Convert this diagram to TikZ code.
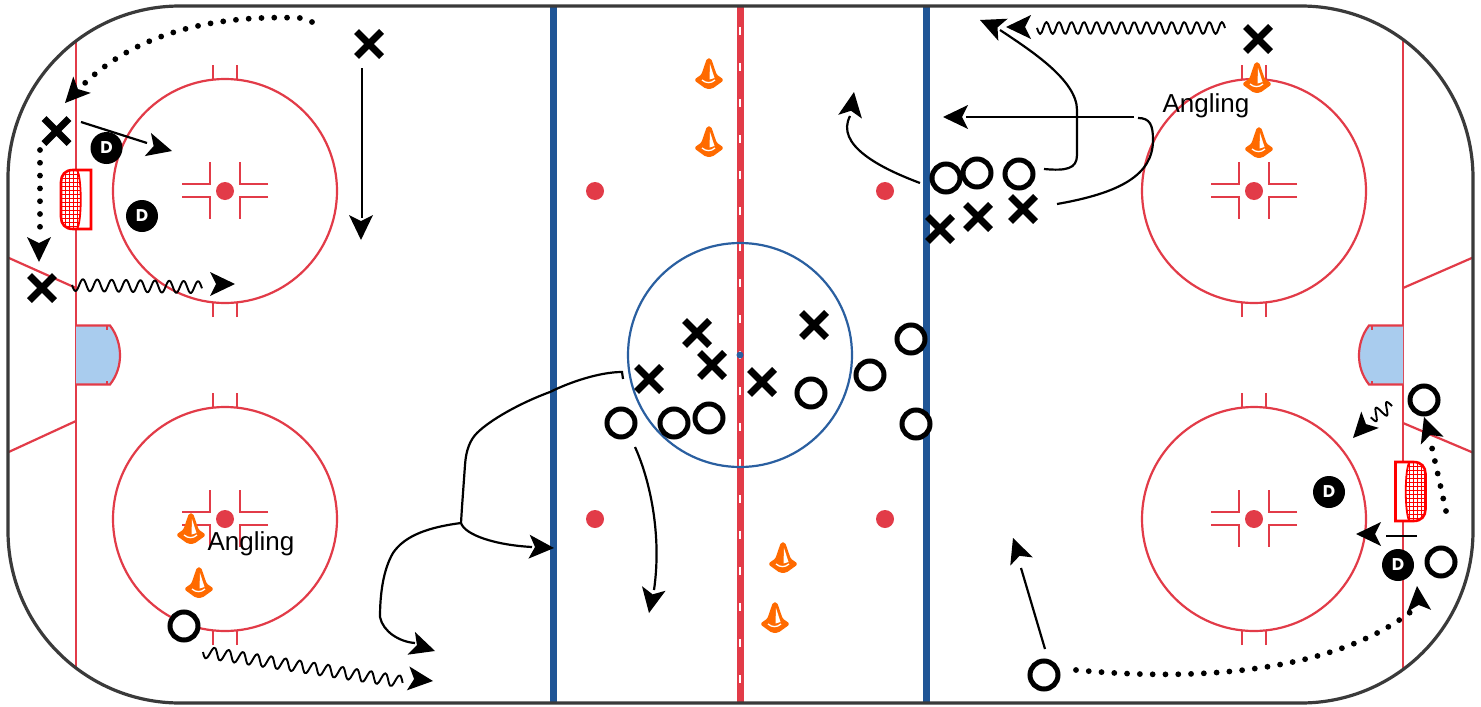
\documentclass[tikz,border=0pt]{standalone}
\usepackage{fontspec}
\setmainfont{Liberation Sans}
\newfontfamily\dfont{Poppins}
\usetikzlibrary{shapes.misc}
\definecolor{rinkred}{HTML}{E23B48}
\definecolor{rinkblue}{HTML}{1F5596}
\definecolor{circblue}{HTML}{2A5FA0}
\definecolor{rinkdark}{HTML}{3A3A3A}
\definecolor{creaseblue}{HTML}{A9CCEE}
\definecolor{coneorange}{HTML}{FF6A00}
\newcommand{\wavyline}[4]{% start, angle, length, period
  \draw[black,line width=1.9pt,line join=round,shift={(#1)},rotate=#2]
    plot[domain=0:#3,samples=120,smooth] (\x,{6*sin(\x/#4*360)});}
\tikzset{
  fl/.style={yscale=-1},
  xplayer/.style={draw=black,cross out,line width=7pt,minimum size=25pt,inner sep=0pt,outer sep=0pt},
  oplayer/.style={draw=black,fill=white,circle,line width=5pt,minimum size=28pt,inner sep=0pt,outer sep=0pt},
  dplayer/.style={fill=black,circle,minimum size=32pt,inner sep=0pt,text=white,font=\dfont\bfseries\fontsize{17}{17}\selectfont},
  label text/.style={font=\fontsize{26}{26}\selectfont,text=black,inner sep=0pt},
  conn/.style={draw=black,line width=2.2pt},
  dots/.style={draw=black,line width=5.8pt,line cap=round,dash pattern=on 0pt off 12.8pt},
  rl/.style={draw=rinkred,line width=2.2pt},
  rldot/.style={fill=rinkred,circle,minimum size=18pt,inner sep=0pt},
  arrowhd/.pic={\fill[black] (0,0) -- (-25,12) -- (-19,0) -- (-25,-12) -- cycle;},
  cone/.pic={
    \fill[coneorange,draw=coneorange,line width=1.5pt,line join=round,rounded corners=1.5pt]
      (-1.5,-15) -- (1.5,-15) -- (7,1) -- (14,6) -- (3,14) -- (-3,14) -- (-14,6) -- (-7,1) -- cycle;
    \fill[white] (1,-10) -- (5.5,4) -- (0.5,5.5) -- cycle;
    \draw[white,line width=1.3pt] (-7,6) .. controls (-3,9.5) and (2,9.5) .. (6,6);
  },
  goalnet/.pic={
    \fill[white] (30,0) -- (12,0) .. controls (4,0) and (0,5) .. (0,12) -- (0,47) .. controls (0,54) and (4,59) .. (12,59) -- (30,59) -- cycle;
    \begin{scope}
      \clip (17,0) -- (12,0) .. controls (4,0) and (0,5) .. (0,12) -- (0,47) .. controls (0,54) and (4,59) .. (12,59) -- (17,59) .. controls (21,52) and (21,7) .. (17,0) -- cycle;
      \draw[red,line width=0.8pt,step=4pt] (-1,-1) grid (22,60);
    \end{scope}
    \draw[red,line width=2.6pt,line join=miter] (30,0) -- (12,0) .. controls (4,0) and (0,5) .. (0,12) -- (0,47) .. controls (0,54) and (4,59) .. (12,59) -- (30,59) -- cycle;
    \draw[red,line width=1.8pt] (16,0) .. controls (21,7) and (21,52) .. (16,59);
  },
  crease/.pic={
    \fill[creaseblue] (0,0) -- (34,0) .. controls (41,9) and (44,20) .. (44,30) .. controls (44,40) and (41,50) .. (34,59) -- (0,59) -- cycle;
    \draw[rl] (0,0) -- (34,0) .. controls (41,9) and (44,20) .. (44,30) .. controls (44,40) and (41,50) .. (34,59) -- (0,59);
    \draw[rl,line width=1.6pt] (31,0) -- (31,4) (31,59) -- (31,55);
  },
  faceoff/.pic={
    \draw[rl] (0,0) circle (112);
    \draw[rl] (-12,-126) -- (-12,-111) (12,-126) -- (12,-111) (-12,126) -- (-12,111) (12,126) -- (12,111);
    \draw[rl] (-43,-7) -- (-15,-7) -- (-15,-29) (43,-7) -- (15,-7) -- (15,-29)
              (-43,6) -- (-15,6) -- (-15,28) (43,6) -- (15,6) -- (15,28);
  },
}
\begin{document}
\begin{tikzpicture}[x=1pt,y=1pt,yscale=-1]
\useasboundingbox (0,0) rectangle (1481,707);
\fill[white] (0,0) rectangle (1481,707);
% rink markings
\begin{scope}
  \clip[rounded corners=172pt] (8,6) rectangle (1473,703);
  \draw[rl] (76,0) -- (76,707) (1403,0) -- (1403,707);
  \draw[rl] (0,254) -- (76,288) (0,456) -- (76,421) (1403,288) -- (1481,254) (1403,423) -- (1481,456);
  \draw[rinkblue,line width=7pt] (553.5,0) -- (553.5,707) (926,0) -- (926,707);
  \draw[rinkred,line width=7pt] (740,0) -- (740,707);
  \draw[white,line width=2pt,dash pattern=on 8pt off 28pt] (740,27) -- (740,707);
\end{scope}
\pic[fl] at (76,325.5) {crease};
\pic[fl,xscale=-1] at (1403,325.5) {crease};
\pic[fl] at (225,191) {faceoff};
\pic[fl] at (225,519) {faceoff};
\pic[fl] at (1254,191) {faceoff};
\pic[fl] at (1254,519) {faceoff};
\node[rldot] (fd1) at (225,191) {};
\node[rldot] (fd2) at (225,519) {};
\node[rldot] (fd3) at (1254,191) {};
\node[rldot] (fd4) at (1254,519) {};
\node[rldot] (nd1) at (595,191) {};
\node[rldot] (nd2) at (885,191) {};
\node[rldot] (nd3) at (595,519) {};
\node[rldot] (nd4) at (885,519) {};
\draw[circblue,line width=2.2pt] (740,355) circle (112);
\node[fill=circblue,circle,minimum size=7pt,inner sep=0pt] (center) at (740,355) {};
\draw[rinkdark,line width=3.2pt,rounded corners=172pt] (8,6) rectangle (1473,703);
% goals
\pic[fl] at (61,170) {goalnet};
\pic[fl,xscale=-1] at (1425.5,462) {goalnet};
% cones
\foreach \cx/\cy in {709/74,709/142,783/558,775/618,1257/78,1259/143,191/529,199/583}
  \pic[fl] at (\cx,\cy) {cone};
% labels
\node[label text] (ang1) at (251,544) {Angling};
\node[label text] (ang2) at (1206,106) {Angling};
% players
\node[xplayer] (x1) at (56.5,131) {};
\node[xplayer] (x2) at (42,288) {};
\node[xplayer] (x3) at (369,44) {};
\node[xplayer] (x4) at (1258,39) {};
\node[xplayer] (x5) at (697,333) {};
\node[xplayer] (x6) at (712,365) {};
\node[xplayer] (x7) at (649,379) {};
\node[xplayer] (x8) at (814,325) {};
\node[xplayer] (x9) at (762,382) {};
\node[xplayer] (x10) at (940,229) {};
\node[xplayer] (x11) at (978,217) {};
\node[xplayer] (x12) at (1023,209) {};
\node[oplayer] (o1) at (946,178) {};
\node[oplayer] (o2) at (977,173) {};
\node[oplayer] (o3) at (1019,174) {};
\node[oplayer] (o4) at (911,339) {};
\node[oplayer] (o5) at (870,375) {};
\node[oplayer] (o6) at (916,424) {};
\node[oplayer] (o7) at (811,393) {};
\node[oplayer] (o8) at (709,418) {};
\node[oplayer] (o9) at (674,423) {};
\node[oplayer] (o10) at (621,423) {};
\node[oplayer] (o11) at (184,626) {};
\node[oplayer] (o12) at (1044,675) {};
\node[oplayer] (o13) at (1424,400) {};
\node[oplayer] (o14) at (1441,562) {};
\node[dplayer] (d1) at (106.5,148) {D};
\node[dplayer] (d2) at (142,216) {D};
\node[dplayer] (d3) at (1329,492) {D};
\node[dplayer] (d4) at (1398,565) {D};
% connector ends
\coordinate (a1s) at (312,22);
\coordinate (a1h) at (300,18);
\coordinate (a1e) at (85,83);
\coordinate (a1t) at (65,103);
\coordinate (a2s) at (81,122);
\coordinate (a2e) at (147,143);
\coordinate (a2t) at (172,151);
\coordinate (a3s) at (40,150);
\coordinate (a3e) at (40,228);
\coordinate (a3t) at (39,262);
\coordinate (a4s) at (72,285);
\coordinate (a4t) at (235,284);
\coordinate (a5s) at (362,68);
\coordinate (a5e) at (362,218);
\coordinate (a5t) at (361,240);
\coordinate (a6s) at (1225,28);
\coordinate (a6t) at (1006,27);
\coordinate (a7s) at (1044,169);
\coordinate (a7m) at (1077,110);
\coordinate (a7e) at (1000,30);
\coordinate (a7t) at (980,20);
\coordinate (a8s) at (1057,204);
\coordinate (a8e) at (1138,118);
\coordinate (a8f) at (1134,117);
\coordinate (a8g) at (966,117);
\coordinate (a8t) at (943,117);
\coordinate (a9s) at (920,183);
\coordinate (a9e) at (850,116);
\coordinate (a9t) at (854,92);
\coordinate (b0) at (623,379);
\coordinate (b1) at (461,523);
\coordinate (b2) at (532,547);
\coordinate (b2t) at (554,548);
\coordinate (b3) at (415,643);
\coordinate (b3t) at (435,651);
\coordinate (c1s) at (203,652);
\coordinate (c1t) at (433,681);
\coordinate (c2s) at (635,447);
\coordinate (c2e) at (654,590);
\coordinate (c2t) at (649,613);
\coordinate (c3s) at (1045,649);
\coordinate (c3e) at (1021,568);
\coordinate (c3t) at (1013,538);
\coordinate (c4s) at (1076,670);
\coordinate (c4e) at (1418,606);
\coordinate (c4t) at (1417,586);
\coordinate (c5s) at (1392,406);
\coordinate (c5t) at (1353,438);
\coordinate (c6s) at (1446,511);
\coordinate (c6e) at (1432,448);
\coordinate (c6t) at (1424,417);
\coordinate (c7s) at (1417,536);
\coordinate (c7e) at (1386,536);
\coordinate (c7t) at (1356,534);
% connectors
\path[dots] (a1s) -- (a1h) .. controls (200,14) and (130,40) .. (a1e);
\pic[fl,rotate=133] at (a1t) {arrowhd};
\draw[conn] (a2s) -- (a2e);
\pic[fl,rotate=15] at (a2t) {arrowhd};
\path[dots] (a3s) -- (a3e);
\pic[fl,rotate=90] at (a3t) {arrowhd};
\wavyline{a4s}{1}{130}{14.4}
\pic[fl,rotate=0] at (a4t) {arrowhd};
\draw[conn] (a5s) -- (a5e);
\pic[fl,rotate=90] at (a5t) {arrowhd};
\wavyline{a6s}{180}{188}{12.53}
\pic[fl,rotate=180] at (a6t) {arrowhd};
\draw[conn] (a7s) .. controls (1066,171) and (1077,169) .. (1077,155) -- (a7m) .. controls (1077,80) and (1030,50) .. (a7e);
\pic[fl,rotate=203] at (a7t) {arrowhd};
\draw[conn] (a8s) .. controls (1120,193) and (1153,175) .. (1153,140) .. controls (1153,125) and (1150,118) .. (a8e);
\draw[conn] (a8f) -- (a8g);
\pic[fl,rotate=180] at (a8t) {arrowhd};
\draw[conn] (a9s) .. controls (880,168) and (835,145) .. (a9e);
\pic[fl,rotate=-81] at (a9t) {arrowhd};
\draw[conn] (b0) -- (622,372) .. controls (600,372) and (570,382) .. (550,392) .. controls (520,403) and (490,420) .. (477,433) .. controls (470,440) and (466,450) .. (465,465) -- (462,507) -- (b1);
\draw[conn] (b1) .. controls (465,535) and (495,545) .. (b2);
\pic[fl,rotate=3] at (b2t) {arrowhd};
\draw[conn] (b1) .. controls (430,527) and (405,535) .. (393,553) .. controls (383,570) and (380,595) .. (380,617) .. controls (383,632) and (400,642) .. (b3);
\pic[fl,rotate=18] at (b3t) {arrowhd};
\wavyline{c1s}{8.5}{202}{14.4}
\pic[fl,rotate=6] at (c1t) {arrowhd};
\draw[conn] (c2s) .. controls (650,480) and (662,535) .. (c2e);
\pic[fl,rotate=101] at (c2t) {arrowhd};
\draw[conn] (c3s) -- (c3e);
\pic[fl,rotate=250] at (c3t) {arrowhd};
\path[dots] (c4s) .. controls (1200,682) and (1340,672) .. (c4e);
\pic[fl,rotate=265] at (c4t) {arrowhd};
\wavyline{c5s}{152}{24}{12}
\pic[fl,rotate=133] at (c5t) {arrowhd};
\path[dots] (c6s) -- (c6e);
\pic[fl,rotate=251] at (c6t) {arrowhd};
\draw[conn] (c7s) -- (c7e);
\pic[fl,rotate=180] at (c7t) {arrowhd};
\end{tikzpicture}
\end{document}
